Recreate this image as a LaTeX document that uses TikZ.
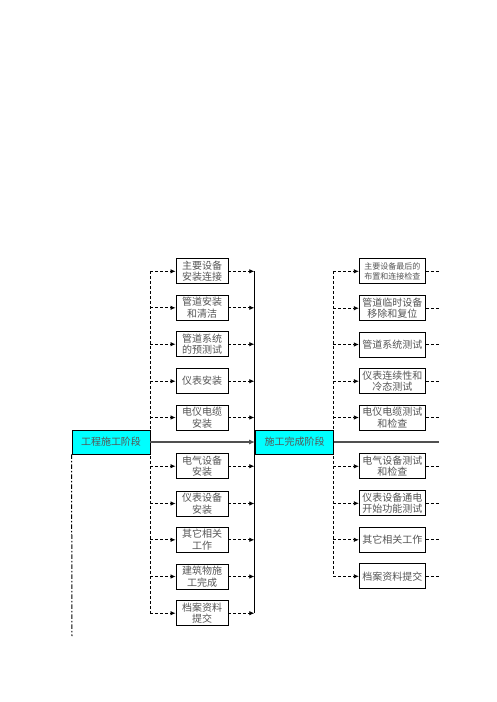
\documentclass[tikz,border=0pt]{standalone}
\usepackage{fontspec}
\setmainfont{Noto Sans CJK SC}
\usetikzlibrary{arrows.meta}
\definecolor{txt}{HTML}{555555}
\definecolor{stagefill}{HTML}{00FFFF}
\definecolor{mainline}{HTML}{505050}
\begin{document}
\begin{tikzpicture}[x=1pt,y=-1pt,
  box/.style={draw=black,line width=0.9pt,fill=white,text=txt,font=\fontsize{10}{11.5}\selectfont,align=center,inner sep=0pt,minimum height=25pt},
  lbox/.style={box,minimum width=52pt},
  rbox/.style={box,minimum width=66pt},
  stage/.style={draw=black,line width=0.9pt,fill=stagefill,text=txt,font=\fontsize{10}{12}\selectfont,inner sep=0pt,minimum width=78pt,minimum height=24pt},
  dl/.style={line width=0.8pt,dash pattern=on 3pt off 2pt},
  tip/.style={-{Latex[length=5pt,width=4.5pt]}},
  dashdot/.style={line width=1pt,dash pattern=on 4.5pt off 2pt on 1.5pt off 2pt},
]
\useasboundingbox (0,0) rectangle (496,702);

% coordinates for line ends
\coordinate (lb1) at (150,271);
\coordinate (lb10) at (150,613);
\coordinate (c1) at (254.3,271);
\coordinate (c10) at (254.3,613);
\coordinate (rb1) at (333.3,271);
\coordinate (rb9) at (333.3,576);
\coordinate (dd) at (72,636);
\coordinate (out) at (438.7,442);

% branch lines (behind boxes)
\draw[dl] (lb1) -- (lb10);
\draw[dl] (rb1) -- (rb9);
\draw[line width=1.2pt] (c1) -- (c10);

% stage boxes
\node[stage] (A) at (111,442) {工程施工阶段};
\node[stage] (B) at (294.5,442) {施工完成阶段};

% left column boxes
\node[lbox] (l1) at (202,271.3) {主要设备\\安装连接};
\node[lbox] (l2) at (202,307.8) {管道安装\\和清洁};
\node[lbox] (l3) at (202,344.2) {管道系统\\的预测试};
\node[lbox] (l4) at (202,381.2) {仪表安装};
\node[lbox] (l5) at (202,417.5) {电仪电缆\\安装};
\node[lbox] (l6) at (202,466.2) {电气设备\\安装};
\node[lbox] (l7) at (202,503.5) {仪表设备\\安装};
\node[lbox] (l8) at (202,539.8) {其它相关\\工作};
\node[lbox] (l9) at (202,576.5) {建筑物施\\工完成};
\node[lbox] (l10) at (202,613.2) {档案资料\\提交};

% right column boxes
\node[rbox,font=\fontsize{8}{10.5}\selectfont] (r1) at (392.3,271.3) {主要设备最后的\\布置和连接检查};
\node[rbox] (r2) at (392.3,308.2) {管道临时设备\\移除和复位};
\node[rbox] (r3) at (392.3,344.5) {管道系统测试};
\node[rbox] (r4) at (392.3,381.2) {仪表连续性和\\冷态测试};
\node[rbox] (r5) at (392.3,417.5) {电仪电缆测试\\和检查};
\node[rbox] (r6) at (392.3,466.3) {电气设备测试\\和检查};
\node[rbox] (r7) at (392.3,503.3) {仪表设备通电\\开始功能测试};
\node[rbox] (r8) at (392.3,539.8) {其它相关工作};
\node[rbox] (r9) at (392.3,576.3) {档案资料提交};

% left arrows
\foreach \n in {l1,l2,l3,l4,l5,l6,l7,l8,l9,l10}{
  \draw[dl,tip] (lb1 |- \n.west) -- (\n.west);
  \draw[dl,tip] (\n.east) -- (c1 |- \n.east);
}
% right arrows
\foreach \n in {r1,r2,r3,r4,r5,r6,r7,r8,r9}{
  \draw[dl,tip] (rb1 |- \n.west) -- (\n.west);
  \draw[dl] (\n.east) -- (out |- \n.east);
}

% main line
\draw[line width=1.2pt,color=mainline,-{Latex[length=6pt,width=5pt]}] (A.east) -- (B.west);
\draw[line width=1.2pt,color=mainline] (B.east) -- (out);

% dash-dot line
\draw[dashdot] (A.south west) -- (dd);
\end{tikzpicture}
\end{document}
